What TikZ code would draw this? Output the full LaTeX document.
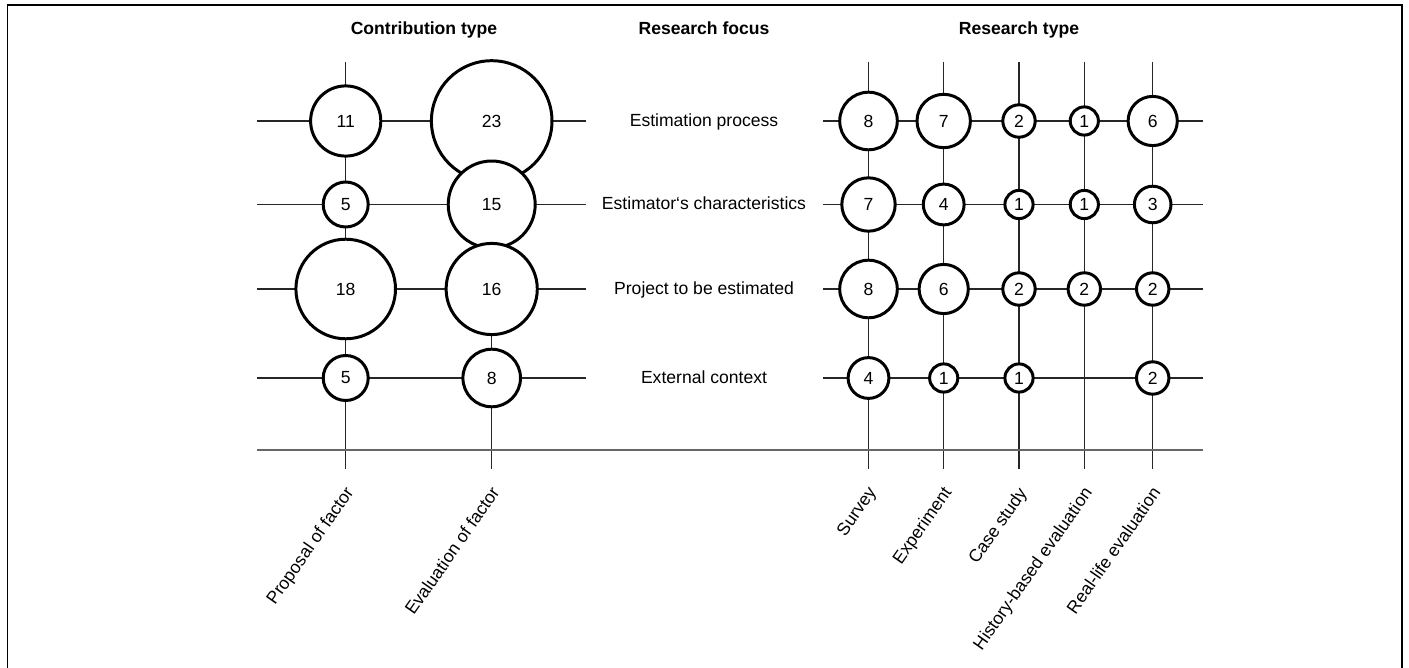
\documentclass[tikz,border=0pt]{standalone}
\usepackage{fontspec}
\setmainfont{Liberation Sans}

\begin{document}
\begin{tikzpicture}[x=0.02cm, y=-0.02cm,
  grid/.style={line width=0.6pt, black!85},
  bubble/.style={circle, draw, line width=1.7pt, fill=white, inner sep=0pt,
    font=\fontsize{10}{12}\selectfont},
  head/.style={anchor=base, font=\bfseries\fontsize{10}{12}\selectfont},
  rowlab/.style={anchor=base, font=\fontsize{10}{12}\selectfont},
  collab/.style={rotate=55, anchor=north east, inner sep=0pt,
    font=\fontsize{10}{12}\selectfont}]
  \useasboundingbox (0,0) rectangle (1409,668);

  % frame (open at the bottom)
  \draw[line width=1pt] (7.5,690) -- (7.5,5.2) -- (1402,5.2) -- (1402,690);

  % headers
  \node[head] (hcontrib) at (424,34.3) {Contribution type};
  \node[head] (hfocus)   at (704,34.3) {Research focus};
  \node[head] (hresearch) at (1019,34.3) {Research type};

  % grid lines
  \foreach \y in {121,204.5,289,378} {
    \draw[grid] (257,\y) -- (586,\y);
    \draw[grid] (823,\y) -- (1203,\y);
  }
  \foreach \x in {345.7,491.7,868.5,943.7,1019,1084.3,1152.7}
    \draw[grid] (\x,62) -- (\x,469);
  \draw[line width=1pt, black!60] (257,450) -- (1203,450);

  % research focus labels
  \node[rowlab] (fproc) at (704,126.5) {Estimation process};
  \node[rowlab] (fchar) at (704,210) {Estimator‘s characteristics};
  \node[rowlab] (fproj) at (704,294.5) {Project to be estimated};
  \node[rowlab] (fext)  at (704,383.5) {External context};

  % bubbles, row by row
  \foreach \c/\x/\v in {1/345.7/11, 2/491.7/23, 3/868.5/8, 4/943.7/7, 5/1019/2, 6/1084.3/1, 7/1152.7/6}
    \node[bubble, minimum size={0.48cm+\v*0.084cm}] (b-1-\c) at (\x,121) {\v};
  \foreach \c/\x/\v in {1/345.7/5, 2/491.7/15, 3/868.5/7, 4/943.7/4, 5/1019/1, 6/1084.3/1, 7/1152.7/3}
    \node[bubble, minimum size={0.48cm+\v*0.084cm}] (b-2-\c) at (\x,204.5) {\v};
  \foreach \c/\x/\v in {1/345.7/18, 2/491.7/16, 3/868.5/8, 4/943.7/6, 5/1019/2, 6/1084.3/2, 7/1152.7/2}
    \node[bubble, minimum size={0.48cm+\v*0.084cm}] (b-3-\c) at (\x,289) {\v};
  \foreach \c/\x/\v in {1/345.7/5, 2/491.7/8, 3/868.5/4, 4/943.7/1, 5/1019/1, 7/1152.7/2}
    \node[bubble, minimum size={0.48cm+\v*0.084cm}] (b-4-\c) at (\x,378) {\v};

  % column labels
  \node[collab] (cprop) at (343.7,485) {Proposal of factor};
  \node[collab] (ceval) at (489.7,485) {Evaluation of factor};
  \node[collab] (csurv) at (866.5,485) {Survey};
  \node[collab] (cexp)  at (941.7,485) {Experiment};
  \node[collab] (ccase) at (1017,485) {Case study};
  \node[collab] (chist) at (1082.3,485) {History-based evaluation};
  \node[collab] (creal) at (1150.7,485) {Real-life evaluation};
\end{tikzpicture}
\end{document}
